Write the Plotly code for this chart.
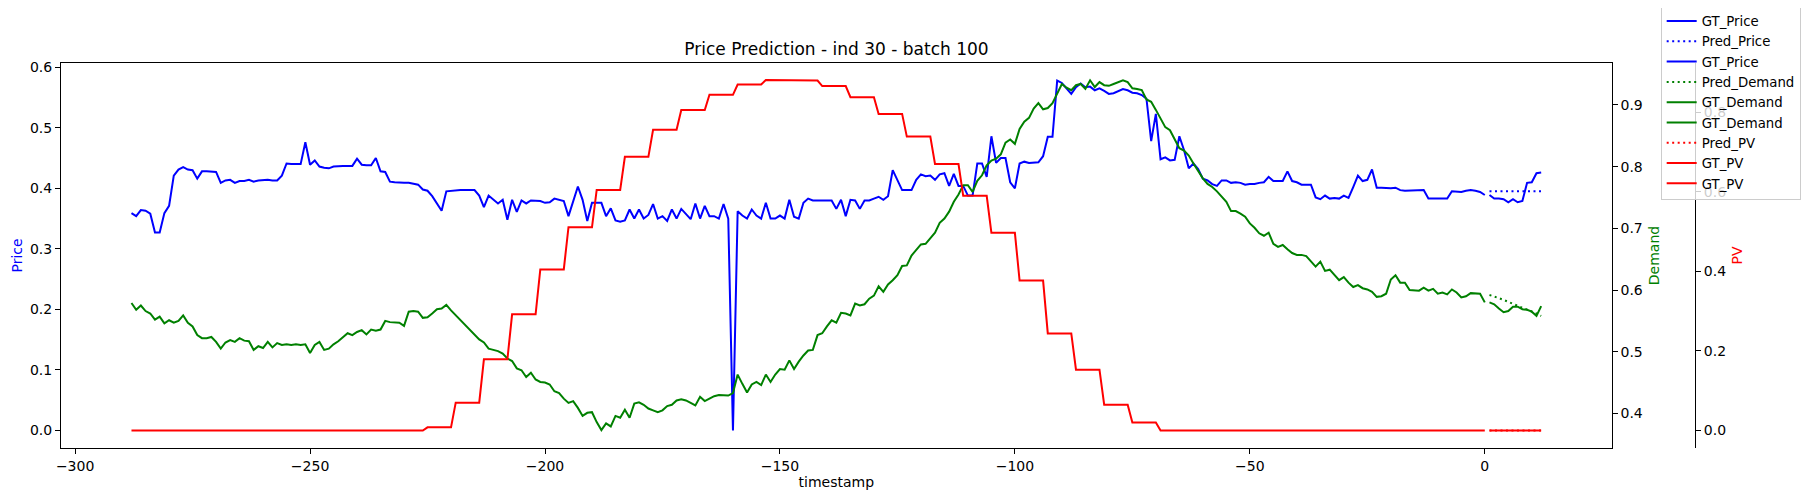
import numpy as np
import plotly.graph_objects as go

# timestamps: history up to 0, then 12 forecast steps
hist_t = list(range(-288, 1))
fut_t = list(range(1, 13))

# price (left axis)
gt_price_hist = [
    0.359, 0.354, 0.364, 0.363, 0.358, 0.327, 0.327, 0.359, 0.371, 0.421,
    0.431, 0.435, 0.431, 0.430, 0.416, 0.428, 0.428, 0.428, 0.427, 0.409,
    0.413, 0.414, 0.409, 0.412, 0.412, 0.414, 0.411, 0.413, 0.414, 0.414,
    0.413, 0.413, 0.421, 0.441, 0.440, 0.440, 0.440, 0.476, 0.439, 0.446,
    0.436, 0.434, 0.433, 0.436, 0.437, 0.437, 0.437, 0.437, 0.449, 0.439,
    0.438, 0.438, 0.450, 0.428, 0.427, 0.411, 0.410, 0.409, 0.409, 0.409,
    0.407, 0.406, 0.398, 0.396, 0.387, 0.376, 0.363, 0.395, 0.396, 0.396,
    0.397, 0.397, 0.397, 0.397, 0.388, 0.369, 0.388, 0.381, 0.375, 0.381,
    0.348, 0.381, 0.361, 0.380, 0.375, 0.380, 0.379, 0.379, 0.376, 0.377,
    0.383, 0.381, 0.379, 0.354, 0.377, 0.403, 0.381, 0.346, 0.376, 0.376,
    0.376, 0.354, 0.367, 0.347, 0.345, 0.347, 0.365, 0.350, 0.365, 0.350,
    0.356, 0.374, 0.350, 0.354, 0.346, 0.365, 0.350, 0.366, 0.357, 0.349,
    0.375, 0.350, 0.371, 0.354, 0.354, 0.350, 0.374, 0.350, 0.000, 0.362,
    0.355, 0.350, 0.365, 0.355, 0.350, 0.376, 0.350, 0.350, 0.355, 0.350,
    0.381, 0.353, 0.350, 0.376, 0.383, 0.380, 0.380, 0.380, 0.380, 0.380,
    0.366, 0.381, 0.354, 0.381, 0.380, 0.366, 0.380, 0.380, 0.383, 0.386,
    0.381, 0.387, 0.430, 0.413, 0.397, 0.397, 0.397, 0.414, 0.423, 0.420,
    0.421, 0.414, 0.423, 0.425, 0.404, 0.424, 0.404, 0.404, 0.388, 0.388,
    0.441, 0.441, 0.419, 0.486, 0.442, 0.450, 0.450, 0.410, 0.400, 0.441,
    0.444, 0.442, 0.442, 0.443, 0.453, 0.485, 0.485, 0.578, 0.574, 0.565,
    0.556, 0.567, 0.573, 0.567, 0.568, 0.562, 0.565, 0.561, 0.556, 0.557,
    0.560, 0.564, 0.562, 0.558, 0.557, 0.554, 0.548, 0.478, 0.523, 0.448,
    0.451, 0.446, 0.447, 0.486, 0.463, 0.433, 0.441, 0.432, 0.416, 0.413,
    0.407, 0.404, 0.413, 0.413, 0.409, 0.410, 0.409, 0.406, 0.407, 0.407,
    0.409, 0.410, 0.419, 0.412, 0.412, 0.412, 0.428, 0.412, 0.410, 0.406,
    0.406, 0.406, 0.385, 0.382, 0.388, 0.383, 0.384, 0.383, 0.388, 0.384,
    0.402, 0.421, 0.412, 0.414, 0.431, 0.401, 0.401, 0.400, 0.400, 0.401,
    0.397, 0.396, 0.396, 0.396, 0.397, 0.397, 0.383, 0.383, 0.383, 0.383,
    0.383, 0.395, 0.395, 0.394, 0.396, 0.397, 0.396, 0.394, 0.389,
]
gt_price_fut = [0.389, 0.383, 0.383, 0.382, 0.377, 0.382, 0.377, 0.379, 0.409, 0.410, 0.425, 0.426]
pred_price = [0.395, 0.395, 0.395, 0.395, 0.395, 0.395, 0.395, 0.395, 0.395, 0.395, 0.395, 0.395]

# demand (first right axis)
gt_demand_hist = [
    0.579, 0.568, 0.575, 0.566, 0.562, 0.552, 0.557, 0.546, 0.551, 0.547,
    0.550, 0.559, 0.547, 0.541, 0.527, 0.522, 0.522, 0.524, 0.516, 0.505,
    0.515, 0.519, 0.516, 0.522, 0.518, 0.517, 0.503, 0.509, 0.506, 0.516,
    0.507, 0.514, 0.511, 0.512, 0.511, 0.512, 0.511, 0.512, 0.498, 0.511,
    0.516, 0.503, 0.505, 0.512, 0.517, 0.523, 0.530, 0.527, 0.532, 0.535,
    0.528, 0.536, 0.534, 0.536, 0.550, 0.548, 0.548, 0.547, 0.542, 0.565,
    0.566, 0.565, 0.555, 0.556, 0.562, 0.569, 0.570, 0.576, 0.567, 0.559,
    0.551, 0.543, 0.535, 0.528, 0.520, 0.515, 0.505, 0.503, 0.501, 0.497,
    0.489, 0.485, 0.473, 0.470, 0.459, 0.466, 0.455, 0.451, 0.450, 0.447,
    0.436, 0.433, 0.424, 0.417, 0.420, 0.409, 0.396, 0.401, 0.402, 0.386,
    0.373, 0.384, 0.379, 0.396, 0.393, 0.406, 0.393, 0.416, 0.418, 0.414,
    0.408, 0.405, 0.402, 0.405, 0.412, 0.414, 0.421, 0.423, 0.421, 0.417,
    0.413, 0.427, 0.420, 0.424, 0.428, 0.430, 0.430, 0.429, 0.433, 0.463,
    0.448, 0.434, 0.447, 0.451, 0.446, 0.463, 0.451, 0.463, 0.472, 0.471,
    0.486, 0.472, 0.484, 0.494, 0.502, 0.503, 0.527, 0.530, 0.541, 0.551,
    0.547, 0.563, 0.562, 0.559, 0.578, 0.575, 0.577, 0.586, 0.591, 0.606,
    0.597, 0.609, 0.616, 0.624, 0.639, 0.640, 0.656, 0.665, 0.674, 0.675,
    0.685, 0.693, 0.709, 0.716, 0.727, 0.743, 0.755, 0.770, 0.770, 0.759,
    0.777, 0.786, 0.802, 0.810, 0.813, 0.820, 0.839, 0.844, 0.837, 0.861,
    0.873, 0.879, 0.894, 0.903, 0.893, 0.895, 0.903, 0.918, 0.934, 0.928,
    0.924, 0.932, 0.934, 0.926, 0.940, 0.929, 0.937, 0.932, 0.931, 0.934,
    0.937, 0.940, 0.937, 0.927, 0.926, 0.924, 0.909, 0.905, 0.892, 0.878,
    0.864, 0.859, 0.845, 0.830, 0.826, 0.818, 0.805, 0.793, 0.781, 0.772,
    0.767, 0.760, 0.752, 0.743, 0.728, 0.728, 0.724, 0.719, 0.708, 0.701,
    0.692, 0.688, 0.693, 0.675, 0.670, 0.673, 0.666, 0.660, 0.657, 0.657,
    0.655, 0.646, 0.638, 0.646, 0.631, 0.633, 0.624, 0.616, 0.621, 0.612,
    0.605, 0.608, 0.603, 0.601, 0.597, 0.589, 0.590, 0.594, 0.617, 0.624,
    0.612, 0.612, 0.600, 0.600, 0.599, 0.604, 0.599, 0.602, 0.594, 0.596,
    0.593, 0.601, 0.596, 0.588, 0.590, 0.595, 0.594, 0.594, 0.580,
]
gt_demand_fut = [0.580, 0.577, 0.570, 0.564, 0.566, 0.573, 0.573, 0.569, 0.568, 0.565, 0.558, 0.574]
pred_demand = [0.592, 0.590, 0.587, 0.584, 0.581, 0.578, 0.575, 0.572, 0.569, 0.566, 0.562, 0.558]

# PV (second right axis) - hourly values, each held for 6 steps from t=-225 to t=-70
pv_hourly = [0.008, 0.070, 0.179, 0.292, 0.405, 0.511, 0.605, 0.688, 0.756, 0.806,
             0.844, 0.870, 0.881, 0.880, 0.866, 0.838, 0.796, 0.739, 0.670, 0.590,
             0.497, 0.377, 0.244, 0.153, 0.065, 0.020]
gt_pv_hist = [0.0] * 63 + list(np.repeat(pv_hourly, 6)) + [0.0] * 70
gt_pv_fut = [0.0] * 12
pred_pv = [0.0] * 12

BLUE = "#0000ff"
GREEN = "#008000"
RED = "#ff0000"
DOT = "2px,3.5px"

fig = go.Figure()

# Price lines
fig.add_trace(go.Scatter(x=hist_t, y=gt_price_hist, mode="lines", name="GT_Price",
                         line=dict(color=BLUE, width=2)))
fig.add_trace(go.Scatter(x=fut_t, y=pred_price, mode="lines", name="Pred_Price",
                         line=dict(color=BLUE, width=2, dash=DOT)))
fig.add_trace(go.Scatter(x=fut_t, y=gt_price_fut, mode="lines", name="GT_Price",
                         line=dict(color=BLUE, width=2)))

# Demand lines
fig.add_trace(go.Scatter(x=fut_t, y=pred_demand, mode="lines", name="Pred_Demand",
                         line=dict(color=GREEN, width=2, dash=DOT), yaxis="y2"))
fig.add_trace(go.Scatter(x=hist_t, y=gt_demand_hist, mode="lines", name="GT_Demand",
                         line=dict(color=GREEN, width=2), yaxis="y2"))
fig.add_trace(go.Scatter(x=fut_t, y=gt_demand_fut, mode="lines", name="GT_Demand",
                         line=dict(color=GREEN, width=2), yaxis="y2"))

# PV lines
fig.add_trace(go.Scatter(x=fut_t, y=pred_pv, mode="lines", name="Pred_PV",
                         line=dict(color=RED, width=2, dash=DOT), yaxis="y3"))
fig.add_trace(go.Scatter(x=hist_t, y=gt_pv_hist, mode="lines", name="GT_PV",
                         line=dict(color=RED, width=2), yaxis="y3"))
fig.add_trace(go.Scatter(x=fut_t, y=gt_pv_fut, mode="lines", name="GT_PV",
                         line=dict(color=RED, width=2), yaxis="y3"))

axis_style = dict(ticks="outside", ticklen=5, tickwidth=1.1, tickcolor="black",
                  showline=True, linewidth=1.1, linecolor="black",
                  showgrid=False, zeroline=False, automargin=False)

# page body has an 8px margin, so the figure is pulled up/left by 8px here
fig.update_layout(
    template="none",
    width=1814,
    height=501,
    paper_bgcolor="white",
    plot_bgcolor="white",
    font=dict(family="DejaVu Sans", size=14, color="black"),
    margin=dict(l=53, r=127, t=55, b=61, autoexpand=False),
    title=dict(text="Price Prediction - ind 30 - batch 100", xref="paper", x=0.4746,
               xanchor="center", yref="container", y=1 - 41 / 501, yanchor="middle",
               font=dict(size=17)),
    xaxis=dict(domain=[0, 0.949], range=[-303, 27], tickvals=[-300, -250, -200, -150, -100, -50, 0],
               mirror=True, title=dict(text="timestamp", standoff=3, font=dict(size=14)), **axis_style),
    yaxis=dict(range=[-0.029, 0.607], tickvals=[0, 0.1, 0.2, 0.3, 0.4, 0.5, 0.6], tickformat=".1f",
               mirror=True, title=dict(text="Price", font=dict(color=BLUE, size=14), standoff=3),
               **axis_style),
    yaxis2=dict(overlaying="y", side="right", anchor="x", range=[0.344, 0.968],
                tickvals=[0.4, 0.5, 0.6, 0.7, 0.8, 0.9], tickformat=".1f",
                title=dict(text="Demand", font=dict(color=GREEN, size=14), standoff=7), **axis_style),
    yaxis3=dict(overlaying="y", side="right", anchor="free", position=1.0, range=[-0.044, 0.924],
                tickvals=[0, 0.2, 0.4, 0.6, 0.8], tickformat=".1f",
                title=dict(text="PV", font=dict(color=RED, size=14), standoff=6), **axis_style),
    legend=dict(x=0.979, y=1.151, xanchor="left", yanchor="top", traceorder="normal",
                bgcolor="rgba(255,255,255,0.8)", bordercolor="#cccccc", borderwidth=1,
                font=dict(size=13.3)),
    showlegend=True,
)

fig.write_html("out.html")
